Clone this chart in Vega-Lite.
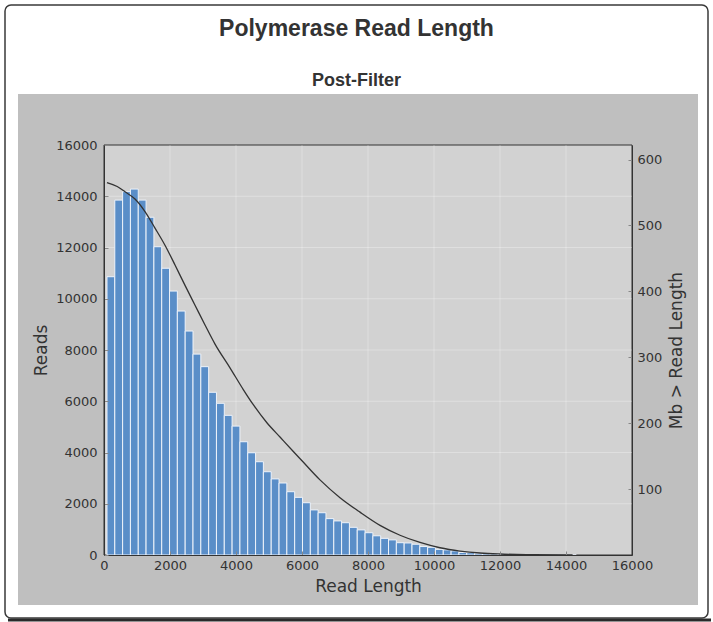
{
  "$schema": "https://vega.github.io/schema/vega-lite/v6.json",
  "width": 703,
  "height": 613,
  "autosize": {"type": "none"},
  "padding": {"left": 5, "top": 5, "right": 5, "bottom": 4},
  "background": "white",
  "config": {
    "view": {"fill": "white", "stroke": "#3a3a3a", "strokeWidth": 1.5, "cornerRadius": 6},
    "font": "DejaVu Sans"
  },
  "title": {
    "text": "Polymerase Read Length",
    "subtitle": "Post-Filter",
    "font": "Liberation Sans",
    "fontSize": 23,
    "fontWeight": "bold",
    "color": "#333333",
    "subtitleFont": "Liberation Sans",
    "subtitleFontSize": 18,
    "subtitleFontWeight": "bold",
    "subtitleColor": "#333333",
    "subtitlePadding": 31,
    "offset": -85,
    "anchor": "middle",
    "frame": "group"
  },
  "datasets": {
    "bars": [
      {"start": 90, "end": 327, "reads": 10860},
      {"start": 327, "end": 564, "reads": 13850},
      {"start": 564, "end": 801, "reads": 14180},
      {"start": 801, "end": 1038, "reads": 14280},
      {"start": 1038, "end": 1275, "reads": 13850},
      {"start": 1275, "end": 1512, "reads": 13180},
      {"start": 1512, "end": 1749, "reads": 12030},
      {"start": 1749, "end": 1986, "reads": 11190},
      {"start": 1986, "end": 2223, "reads": 10300},
      {"start": 2223, "end": 2460, "reads": 9520},
      {"start": 2460, "end": 2697, "reads": 8740},
      {"start": 2697, "end": 2934, "reads": 7840},
      {"start": 2934, "end": 3171, "reads": 7350},
      {"start": 3171, "end": 3408, "reads": 6350},
      {"start": 3408, "end": 3645, "reads": 5920},
      {"start": 3645, "end": 3882, "reads": 5450},
      {"start": 3882, "end": 4119, "reads": 5030},
      {"start": 4119, "end": 4356, "reads": 4420},
      {"start": 4356, "end": 4593, "reads": 3990},
      {"start": 4593, "end": 4830, "reads": 3640},
      {"start": 4830, "end": 5067, "reads": 3250},
      {"start": 5067, "end": 5304, "reads": 2970},
      {"start": 5304, "end": 5541, "reads": 2810},
      {"start": 5541, "end": 5778, "reads": 2470},
      {"start": 5778, "end": 6015, "reads": 2250},
      {"start": 6015, "end": 6252, "reads": 2040},
      {"start": 6252, "end": 6489, "reads": 1760},
      {"start": 6489, "end": 6726, "reads": 1650},
      {"start": 6726, "end": 6963, "reads": 1420},
      {"start": 6963, "end": 7200, "reads": 1330},
      {"start": 7200, "end": 7437, "reads": 1260},
      {"start": 7437, "end": 7674, "reads": 1080},
      {"start": 7674, "end": 7911, "reads": 980},
      {"start": 7911, "end": 8148, "reads": 870},
      {"start": 8148, "end": 8385, "reads": 750},
      {"start": 8385, "end": 8622, "reads": 650},
      {"start": 8622, "end": 8859, "reads": 590},
      {"start": 8859, "end": 9096, "reads": 480},
      {"start": 9096, "end": 9333, "reads": 470},
      {"start": 9333, "end": 9570, "reads": 420},
      {"start": 9570, "end": 9807, "reads": 330},
      {"start": 9807, "end": 10044, "reads": 300},
      {"start": 10044, "end": 10281, "reads": 220},
      {"start": 10281, "end": 10518, "reads": 200},
      {"start": 10518, "end": 10755, "reads": 160},
      {"start": 10755, "end": 10992, "reads": 100},
      {"start": 10992, "end": 11229, "reads": 90},
      {"start": 11229, "end": 11466, "reads": 70},
      {"start": 11466, "end": 11703, "reads": 55},
      {"start": 11703, "end": 11940, "reads": 45},
      {"start": 11940, "end": 12177, "reads": 35},
      {"start": 12177, "end": 12414, "reads": 25},
      {"start": 12414, "end": 12651, "reads": 20},
      {"start": 12651, "end": 12888, "reads": 15},
      {"start": 12888, "end": 13125, "reads": 12},
      {"start": 13125, "end": 13362, "reads": 10},
      {"start": 13362, "end": 13599, "reads": 8},
      {"start": 13599, "end": 13836, "reads": 6},
      {"start": 13836, "end": 14073, "reads": 5},
      {"start": 14073, "end": 14310, "reads": 4}
    ],
    "curve": [
      {"length": 90, "mb": 565},
      {"length": 400, "mb": 559},
      {"length": 636, "mb": 551},
      {"length": 939, "mb": 540},
      {"length": 1242, "mb": 521},
      {"length": 1545, "mb": 496},
      {"length": 1848, "mb": 470},
      {"length": 2152, "mb": 440},
      {"length": 2455, "mb": 409},
      {"length": 2758, "mb": 379},
      {"length": 3061, "mb": 349},
      {"length": 3364, "mb": 320},
      {"length": 3818, "mb": 284},
      {"length": 4221, "mb": 251},
      {"length": 4524, "mb": 228},
      {"length": 4930, "mb": 201},
      {"length": 5333, "mb": 179},
      {"length": 5737, "mb": 157},
      {"length": 6000, "mb": 143},
      {"length": 6545, "mb": 114},
      {"length": 7152, "mb": 87},
      {"length": 7758, "mb": 65},
      {"length": 8364, "mb": 45},
      {"length": 8970, "mb": 30},
      {"length": 9576, "mb": 19},
      {"length": 10182, "mb": 11},
      {"length": 10788, "mb": 6},
      {"length": 11394, "mb": 3},
      {"length": 12000, "mb": 1.5},
      {"length": 13000, "mb": 0.5},
      {"length": 14200, "mb": 0}
    ],
    "grid": [
      {"v": 2000}, {"v": 4000}, {"v": 6000}, {"v": 8000},
      {"v": 10000}, {"v": 12000}, {"v": 14000}
    ],
    "one": [{}]
  },
  "layer": [
    {
      "layer": [
        {
          "data": {"name": "one"},
          "mark": {"type": "rule", "stroke": "#2a2a2a", "strokeWidth": 3},
          "encoding": {
            "x": {"datum": -2909, "type": "quantitative"},
            "x2": {"datum": 18394},
            "y": {"datum": -2537, "type": "quantitative"}
          }
        },
        {
          "data": {"name": "one"},
          "mark": {"type": "rect", "fill": "#bfbfbf"},
          "encoding": {
            "x": {"datum": -2606, "type": "quantitative"},
            "x2": {"datum": 18000},
            "y": {"datum": -1951, "type": "quantitative"},
            "y2": {"datum": 17990}
          }
        },
        {
          "data": {"name": "one"},
          "mark": {"type": "rect", "fill": "#d2d2d2", "stroke": "#333333", "strokeWidth": 1},
          "encoding": {
            "x": {"datum": 0, "type": "quantitative"},
            "x2": {"datum": 16000},
            "y": {"datum": 0, "type": "quantitative"},
            "y2": {"datum": 16000}
          }
        },
        {
          "data": {"name": "grid"},
          "mark": {"type": "rule", "stroke": "white", "strokeOpacity": 0.3, "strokeWidth": 1},
          "encoding": {
            "x": {"field": "v", "type": "quantitative"},
            "y": {"datum": 0, "type": "quantitative"},
            "y2": {"datum": 16000}
          }
        },
        {
          "data": {"name": "grid"},
          "mark": {"type": "rule", "stroke": "white", "strokeOpacity": 0.3, "strokeWidth": 1},
          "encoding": {
            "y": {"field": "v", "type": "quantitative"},
            "x": {"datum": 0, "type": "quantitative"},
            "x2": {"datum": 16000}
          }
        },
        {
          "data": {"name": "bars"},
          "mark": {"type": "bar", "fill": "#5a8ec8", "stroke": "#eef3fa", "strokeWidth": 1},
          "encoding": {
            "x": {
              "field": "start",
              "type": "quantitative",
              "scale": {"domain": [0, 16000], "range": [99, 627], "nice": false, "zero": false, "padding": 0},
              "axis": {
                "title": "Read Length",
                "orient": "bottom",
                "offset": -63,
                "zindex": 1,
                "values": [0, 2000, 4000, 6000, 8000, 10000, 12000, 14000, 16000],
                "format": "d",
                "grid": false,
                "domainColor": "#333333",
                "tickColor": "#888888",
                "tickSize": -4,
                "labelPadding": 8,
                "labelFontSize": 13,
                "labelColor": "#333333",
                "labelFont": "DejaVu Sans",
                "labelFlush": false,
                "labelOverlap": false,
                "titleFont": "DejaVu Sans",
                "titleFontSize": 17,
                "titleFontWeight": "normal",
                "titleColor": "#333333",
                "titlePadding": 6
              }
            },
            "x2": {"field": "end"},
            "y": {
              "field": "reads",
              "type": "quantitative",
              "scale": {"domain": [0, 16000], "range": [550, 140], "nice": false, "padding": 0},
              "axis": {
                "title": "Reads",
                "orient": "left",
                "offset": -99,
                "zindex": 1,
                "values": [0, 2000, 4000, 6000, 8000, 10000, 12000, 14000, 16000],
                "format": "d",
                "grid": false,
                "domainColor": "#333333",
                "tickColor": "#888888",
                "tickSize": -4,
                "labelPadding": 11,
                "labelFontSize": 13,
                "labelColor": "#333333",
                "labelFont": "DejaVu Sans",
                "labelFlush": false,
                "labelOverlap": false,
                "titleFont": "DejaVu Sans",
                "titleFontSize": 17,
                "titleFontWeight": "normal",
                "titleColor": "#333333",
                "titlePadding": 5
              }
            },
            "y2": {"datum": 0}
          }
        }
      ]
    },
    {
      "data": {"name": "curve"},
      "mark": {"type": "line", "stroke": "#333333", "strokeWidth": 1.3, "interpolate": "monotone"},
      "encoding": {
        "x": {
          "field": "length",
          "type": "quantitative",
          "scale": {"domain": [0, 16000], "range": [99, 627], "nice": false, "zero": false, "padding": 0}
        },
        "y": {
          "field": "mb",
          "type": "quantitative",
          "scale": {"domain": [0, 622], "range": [550, 140], "nice": false, "padding": 0},
          "axis": {
            "title": "Mb > Read Length",
            "orient": "right",
            "offset": -76,
            "zindex": 1,
            "values": [100, 200, 300, 400, 500, 600],
            "grid": false,
            "domainColor": "#333333",
            "tickColor": "#888888",
            "tickSize": -4,
            "labelPadding": 9,
            "labelFontSize": 13,
            "labelColor": "#333333",
            "labelFont": "DejaVu Sans",
            "labelFlush": false,
            "labelOverlap": false,
            "titleFont": "DejaVu Sans",
            "titleFontSize": 17,
            "titleFontWeight": "normal",
            "titleColor": "#333333",
            "titleAngle": 270,
            "titlePadding": 24
          }
        }
      }
    }
  ],
  "resolve": {"scale": {"y": "independent"}}
}
